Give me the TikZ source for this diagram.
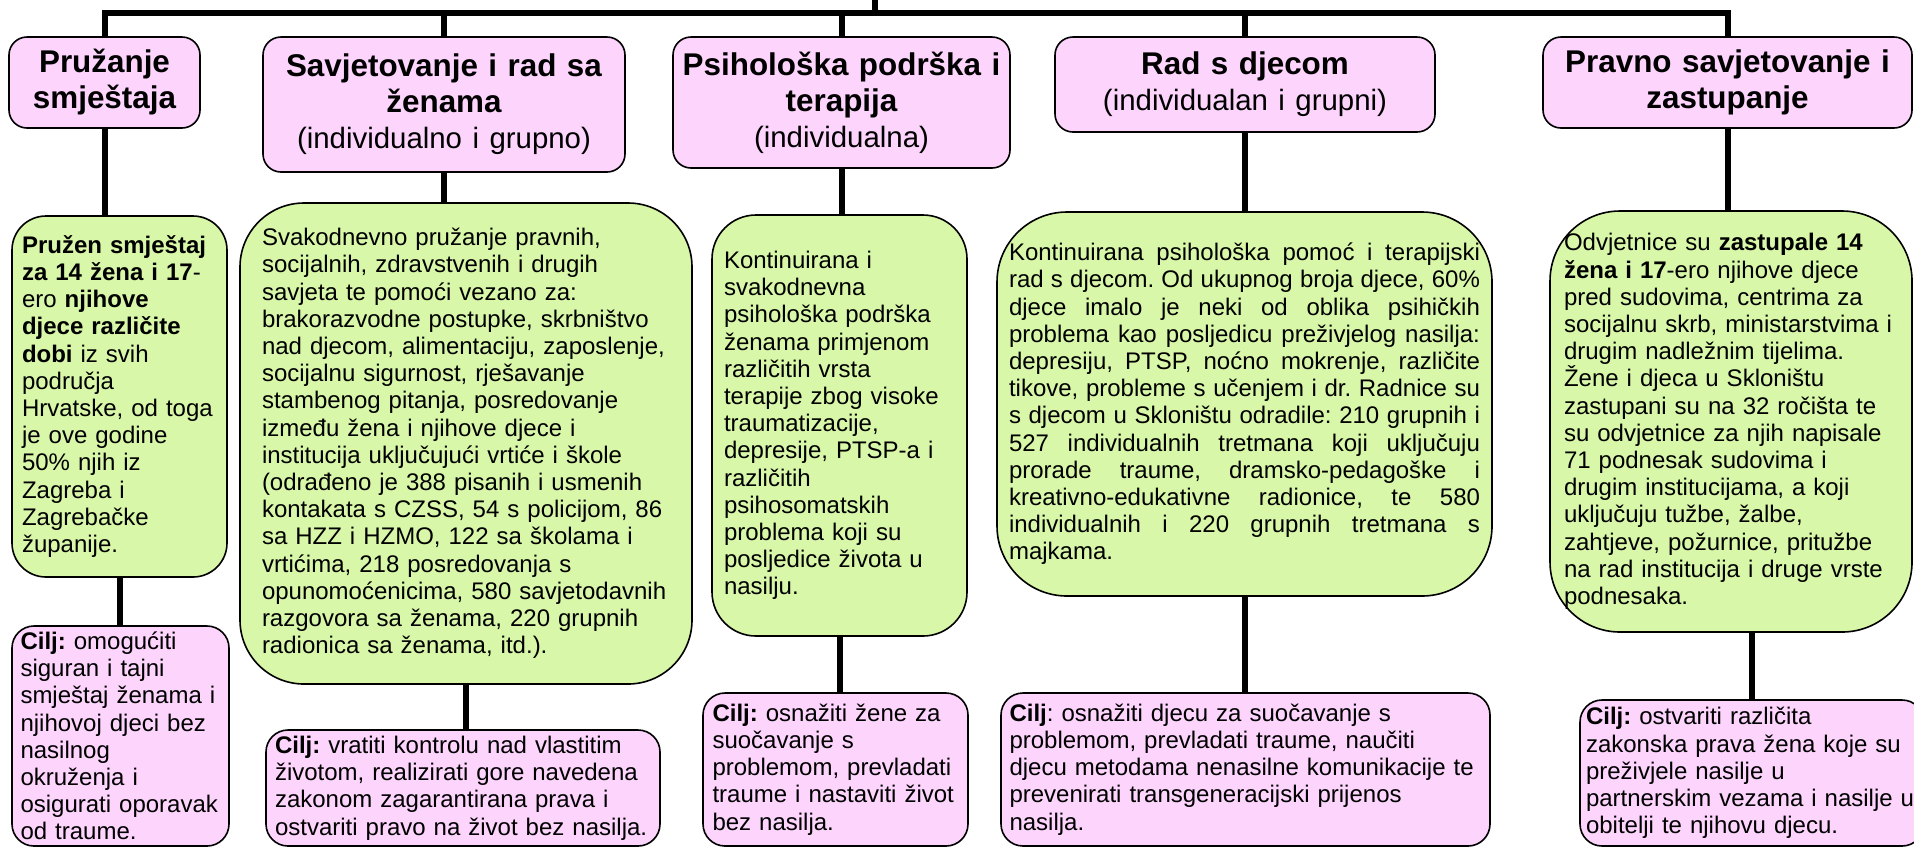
\documentclass[tikz,border=0pt]{standalone}
\usepackage{fontspec}
\setmainfont{Liberation Sans}
\usepackage{tikz}
\frenchspacing
\definecolor{headpink}{RGB}{252,212,252}
\definecolor{bodygreen}{RGB}{216,247,168}
\newcommand{\headfont}{\fontsize{15.7}{18}\selectfont\bfseries}
\newcommand{\boxfont}{\fontsize{12}{13.6}\selectfont}
\newcommand{\subline}[1]{{\fontsize{14.7}{18}\selectfont\mdseries #1}}
\newcommand{\justline}[1]{{\spaceskip=0pt\xspaceskip=0pt\makebox[\hsize][s]{#1}}}

\begin{document}
\begin{tikzpicture}[x=0.5pt, y=-0.5pt,
  head/.style={rectangle, draw, fill=headpink, line width=0.8pt, rounded corners=9pt, align=center, font=\headfont, inner sep=2pt},
  body/.style={rectangle, draw, fill=bodygreen, line width=0.8pt, align=left, font=\boxfont, inner sep=2pt},
  goal/.style={rectangle, draw, fill=headpink, line width=0.8pt, rounded corners=11pt, align=left, font=\boxfont, inner sep=1pt},
  link/.style={line width=3pt}]
\useasboundingbox (0,0) rectangle (1914,848);
% Define all the nodes.
% Pruzanje smjestaja
\node[head, text width=90pt, minimum width=95.5pt, minimum height=45.5pt] (h1) at (104.5,82.5) {Pružanje\\ smještaja};
% Savjetovanje
\node[head, text width=175pt, minimum width=181pt, minimum height=67.5pt] (h2) at (444,104.5) {Savjetovanje i rad sa\\ ženama\\ \subline{(individualno i grupno)}};
% Psiholoska podrska
\node[head, text width=164pt, minimum width=168.5pt, minimum height=65.5pt] (h3) at (841.5,102.5) {Psihološka podrška i\\ terapija\\ \subline{(individualna)}};
% Rad s djecom
\node[head, text width=180pt, minimum width=190pt, minimum height=47.5pt] (h4) at (1245,84.5) {Rad s djecom\\ \subline{(individualan i grupni)}};
% Pravno savjetovanje
\node[head, text width=178pt, minimum width=184.5pt, minimum height=45.5pt] (h5) at (1727.5,82.5) {Pravno savjetovanje i\\ zastupanje};
% Smjestaj - opis
\node[body, rounded corners=17pt, text width=97.5pt, minimum width=107.5pt, minimum height=180.5pt] (g1) at (119.5,396.5) {%
\textbf{Pružen smještaj}\\
\textbf{za 14 žena i 17}-\\
ero \textbf{njihove}\\
\textbf{djece različite}\\
\textbf{dobi} iz svih\\
područja\\
Hrvatske, od toga\\
je ove godine\\
50\% njih iz\\
Zagreba i\\
Zagrebačke\\
županije.};
% Savjetovanje - opis
\node[body, rounded corners=32pt, text width=204pt, minimum width=226pt, minimum height=240.5pt] (g2) at (466,443.5) {%
Svakodnevno pružanje pravnih,\\
socijalnih, zdravstvenih i drugih\\
savjeta te pomoći vezano za:\\
brakorazvodne postupke, skrbništvo\\
nad djecom, alimentaciju, zaposlenje,\\
socijalnu sigurnost, rješavanje\\
stambenog pitanja, posredovanje\\
između žena i njihove djece i\\
institucija uključujući vrtiće i škole\\
(odrađeno je 388 pisanih i usmenih\\
kontakata s CZSS, 54 s policijom, 86\\
sa HZZ i HZMO, 122 sa školama i\\
vrtićima, 218 posredovanja s\\
opunomoćenicima, 580 savjetodavnih\\
razgovora sa ženama, 220 grupnih\\
radionica sa ženama, itd.).};
% Psiholoska podrska - opis
\node[body, rounded corners=22pt, text width=115.5pt, minimum width=127.5pt, minimum height=210.5pt] (g3) at (839.5,425.5) {%
Kontinuirana i\\
svakodnevna\\
psihološka podrška\\
ženama primjenom\\
različitih vrsta\\
terapije zbog visoke\\
traumatizacije,\\
depresije, PTSP-a i\\
različitih\\
psihosomatskih\\
problema koji su\\
posljedice života u\\
nasilju.};
% Rad s djecom - opis
\node[body, rounded corners=35pt, text width=235.5pt, minimum width=247.5pt, minimum height=192pt] (g4) at (1244.5,404) {%
\justline{Kontinuirana psihološka pomoć i terapijski}\\
\justline{rad s djecom. Od ukupnog broja djece, 60\%}\\
\justline{djece imalo je neki od oblika psihičkih}\\
\justline{problema kao posljedicu preživjelog nasilja:}\\
\justline{depresiju, PTSP, noćno mokrenje, različite}\\
\justline{tikove, probleme s učenjem i dr. Radnice su}\\
\justline{s djecom u Skloništu odradile: 210 grupnih i}\\
\justline{527 individualnih tretmana koji uključuju}\\
\justline{prorade traume, dramsko-pedagoške i}\\
\justline{kreativno-edukativne radionice, te 580}\\
\justline{individualnih i 220 grupnih tretmana s}\\
majkama.};
% Pravno savjetovanje - opis
\node[body, rounded corners=35pt, text width=167pt, minimum width=181pt, minimum height=210.5pt] (g5) at (1731,421.5) {%
Odvjetnice su \textbf{zastupale 14}\\
\textbf{žena i 17}-ero njihove djece\\
pred sudovima, centrima za\\
socijalnu skrb, ministarstvima i\\
drugim nadležnim tijelima.\\
Žene i djeca u Skloništu\\
zastupani su na 32 ročišta te\\
su odvjetnice za njih napisale\\
71 podnesak sudovima i\\
drugim institucijama, a koji\\
uključuju tužbe, žalbe,\\
zahtjeve, požurnice, pritužbe\\
na rad institucija i druge vrste\\
podnesaka.};
% Cilj smjestaja
\node[goal, text width=100pt, minimum width=108.5pt, minimum height=110pt] (c1) at (120.5,736) {%
\textbf{Cilj:} omogućiti\\
siguran i tajni\\
smještaj ženama i\\
njihovoj djeci bez\\
nasilnog\\
okruženja i\\
osigurati oporavak\\
od traume.};
% Cilj savjetovanja
\node[goal, text width=188pt, minimum width=197pt, minimum height=58pt] (c2) at (463,788) {%
\textbf{Cilj:} vratiti kontrolu nad vlastitim\\
životom, realizirati gore navedena\\
zakonom zagarantirana prava i\\
ostvariti pravo na život bez nasilja.};
% Cilj podrske
\node[goal, text width=123pt, minimum width=132.5pt, minimum height=76.5pt] (c3) at (835.5,769.5) {%
\textbf{Cilj:} osnažiti žene za\\
suočavanje s\\
problemom, prevladati\\
traume i nastaviti život\\
bez nasilja.};
% Cilj rada s djecom
\node[goal, text width=236pt, minimum width=244.5pt, minimum height=76.5pt] (c4) at (1245.5,769.5) {%
\textbf{Cilj}: osnažiti djecu za suočavanje s\\
problemom, prevladati traume, naučiti\\
djecu metodama nenasilne komunikacije te\\
prevenirati transgeneracijski prijenos\\
nasilja.};
% Cilj zastupanja
\node[goal, text width=166pt, minimum width=172pt, minimum height=73pt] (c5) at (1752,773) {%
\textbf{Cilj:} ostvariti različita\\
zakonska prava žena koje su\\
preživjele nasilje u\\
partnerskim vezama i nasilje u\\
obitelji te njihovu djecu.};
% Draw the lines
\coordinate (root) at (875,0);
\coordinate (bar) at (875,13);
\draw[link] (root) -- (bar);
\draw[link] (h1.north) |- (bar) -| (h5.north);
\draw[link] (h2.north) -- (h2.north |- bar);
\draw[link] (h3.north) -- (h3.north |- bar);
\draw[link] (h4.north) -- (h4.north |- bar);
\draw[link] (h1.south) -- (h1.south |- g1.north);
\draw[link] (h2.south) -- (h2.south |- g2.north);
\draw[link] (h3.south) -- (h3.south |- g3.north);
\draw[link] (h4.south) -- (h4.south |- g4.north);
\draw[link] (h5.south) -- (h5.south |- g5.north);
\draw[link] (g1.south) -- (g1.south |- c1.north);
\draw[link] (g2.south) -- (g2.south |- c2.north);
\draw[link] (g3.south) -- (g3.south |- c3.north);
\draw[link] (g4.south) -- (g4.south |- c4.north);
\draw[link] (c5.north) -- (c5.north |- g5.south);
\end{tikzpicture}
\end{document}
